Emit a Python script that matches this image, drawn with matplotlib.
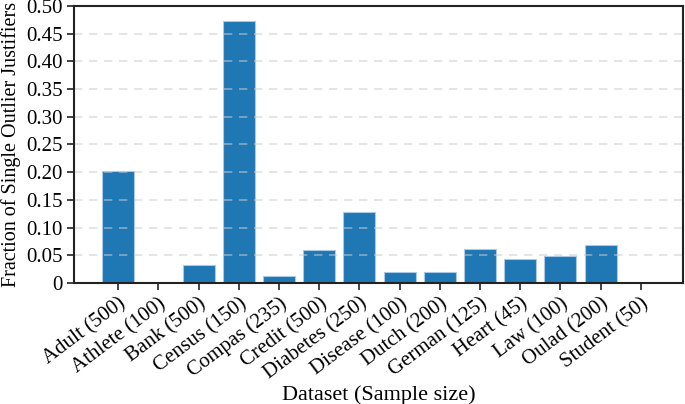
import matplotlib
matplotlib.use('Agg')
import matplotlib.pyplot as plt

plt.rcParams['font.family'] = ['Liberation Serif', 'DejaVu Serif']

datasets = ['Adult', 'Athlete', 'Bank', 'Census', 'Compas', 'Credit', 'Diabetes',
            'Disease', 'Dutch', 'German', 'Heart', 'Law', 'Oulad', 'Student']
sample_sizes = [500, 100, 500, 150, 235, 500, 250, 100, 200, 125, 45, 100, 200, 50]
fractions = [0.203, 0.0, 0.033, 0.473, 0.012, 0.059, 0.1275,
             0.019, 0.019, 0.062, 0.043, 0.049, 0.069, 0.0]

yticks = [0, 0.05, 0.10, 0.15, 0.20, 0.25, 0.30, 0.35, 0.40, 0.45, 0.50]
ytick_labels = ['0', '0.05', '0.10', '0.15', '0.20', '0.25', '0.30',
                '0.35', '0.40', '0.45', '0.50']

labels = ['%s (%d)' % (d, s) for d, s in zip(datasets, sample_sizes)]
x = list(range(len(datasets)))

fig = plt.figure(figsize=(6.85, 4.04), dpi=100)
ax = fig.add_axes([74/685, 1 - 283/404, 609/685, 277/404])

ax.bar(x, fractions, width=0.8, color='#1f77b4', edgecolor='#a9c9e6',
       linewidth=0.8, zorder=2)

ax.set_xlim(-1.1, 14.05)
ax.set_ylim(0, 0.5)
ax.set_yticks(yticks)
ax.set_yticklabels(ytick_labels, fontsize=15)
ax.set_xticks(x)
ax.set_xticklabels(labels, rotation=37, ha='right', rotation_mode='anchor',
                   fontsize=15)
# dashed grid drawn over the bars, faint
for yv in yticks[1:-1]:
    ax.axhline(yv, linestyle=(0, (5, 4)), color='#cccccc', alpha=0.6,
               linewidth=1.2, zorder=3)
ax.tick_params(direction='out', length=5, width=1.2, colors='#222222',
               labelcolor='black', pad=3)
for sp in ax.spines.values():
    sp.set_linewidth(1.5)
    sp.set_color('#222222')
    sp.set_zorder(5)

ax.set_xlabel('Dataset (Sample size)', fontsize=16, va='center')
ax.xaxis.set_label_coords(0.5, -0.404)
ax.set_ylabel('Fraction of Single Outlier Justifiers', fontsize=14.5, labelpad=4)

fig.savefig('out.png', dpi=100)
